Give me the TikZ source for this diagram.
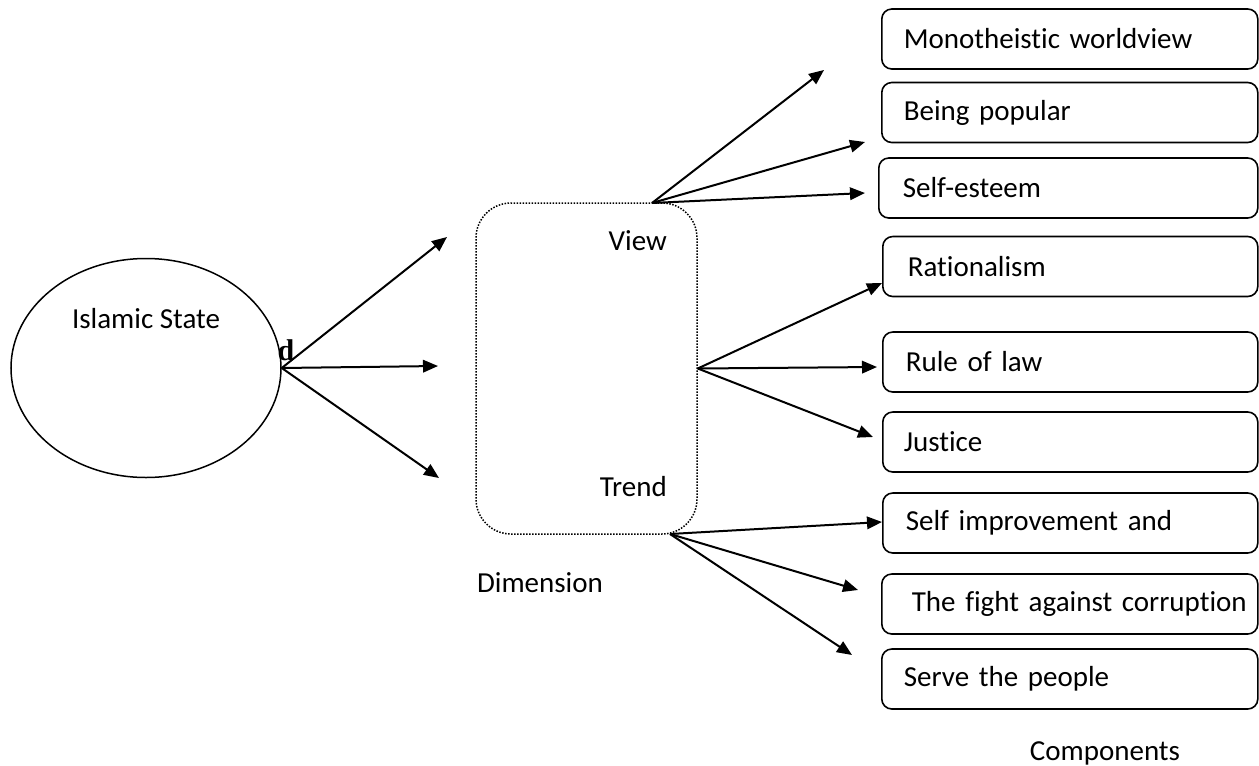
\documentclass[tikz,border=0pt]{standalone}
\usepackage{fontspec}
\setmainfont{Carlito}[Ligatures={NoCommon}]
\newfontfamily\serifbold{Liberation Serif}
\usetikzlibrary{arrows.meta,shapes.geometric}
\begin{document}
\begin{tikzpicture}[x=1pt,y=-1pt,
  every node/.style={font=\fontsize{29}{34}\selectfont},
  comp/.style={draw, line width=1.6pt, rounded corners=10pt, minimum height=60pt,
    text width=376pt, inner xsep=0pt, inner ysep=0pt, align=left, anchor=west},
  arr/.style={line width=2pt, -{Triangle[length=15pt,width=12.5pt]}},
  lbl/.style={inner sep=0pt}]
\useasboundingbox (0,0) rectangle (1259,766);

% left ellipse
\node[draw, ellipse, line width=1.5pt, minimum width=270pt, minimum height=219pt] (st) at (146,368) {};
\node[lbl, anchor=base] (stl) at (146,328) {Islamic State};
\node[lbl, anchor=base, font=\fontsize{30}{34}\serifbold\bfseries] (dd) at (286,360) {d};

% dimension box
\node[draw, line width=1.5pt, dash pattern=on 1.5pt off 1.5pt, rounded corners=35pt,
  minimum width=221pt, minimum height=331pt] (dim) at (586.5,368.5) {};
\node[lbl, anchor=base east] (view) at (667,250) {View};
\node[lbl, anchor=base east] (trend) at (667,496) {Trend};
\node[lbl, anchor=base] (dimlbl) at (540,592) {Dimension};
\node[lbl, anchor=base] (complbl) at (1105,760) {Components};

% components
\node[comp] (c1) at (881,39) {\mbox{\hspace*{22pt}Monotheistic worldview}};
\node[comp] (c2) at (881,112.5) {\mbox{\hspace*{22pt}Being popular}};
\node[comp, text width=379pt] (c3) at (878,188) {\mbox{\hspace*{24pt}Self-esteem}};
\node[comp, text width=375pt] (c4) at (882,266.5) {\mbox{\hspace*{25pt}Rationalism}};
\node[comp, text width=375pt] (c5) at (882,362) {\mbox{\hspace*{23pt}Rule of law}};
\node[comp, text width=375pt] (c6) at (882,442) {\mbox{\hspace*{21pt}Justice}};
\node[comp, text width=375pt] (c7) at (882,523) {\mbox{\hspace*{23pt}Self improvement and}};
\node[comp] (c8) at (881,604) {\mbox{\hspace*{30pt}The fight against corruption}};
\node[comp] (c9) at (881,679) {\mbox{\hspace*{22pt}Serve the people}};

% connector end points
\coordinate (d1) at (447,237);
\coordinate (d2) at (438,366);
\coordinate (d3) at (439,478);
\coordinate (vo) at (652,203);
\coordinate (e1) at (824,70);
\coordinate (e2) at (865,142);
\coordinate (e3) at (865,193);
\coordinate (f1) at (882,283);
\coordinate (f2) at (877,367);
\coordinate (f3) at (873,437);
\coordinate (to) at (670,534);
\coordinate (g1) at (882,522);
\coordinate (g2) at (858,590);
\coordinate (g3) at (852,655);

% arrows
\draw[arr] (st.east) -- (d1);
\draw[arr] (st.east) -- (d2);
\draw[arr] (st.east) -- (d3);
\draw[arr] (vo) -- (e1);
\draw[arr] (vo) -- (e2);
\draw[arr] (vo) -- (e3);
\draw[arr] (dim.east) -- (f1);
\draw[arr] (dim.east) -- (f2);
\draw[arr] (dim.east) -- (f3);
\draw[arr] (to) -- (g1);
\draw[arr] (to) -- (g2);
\draw[arr] (to) -- (g3);
\end{tikzpicture}
\end{document}
